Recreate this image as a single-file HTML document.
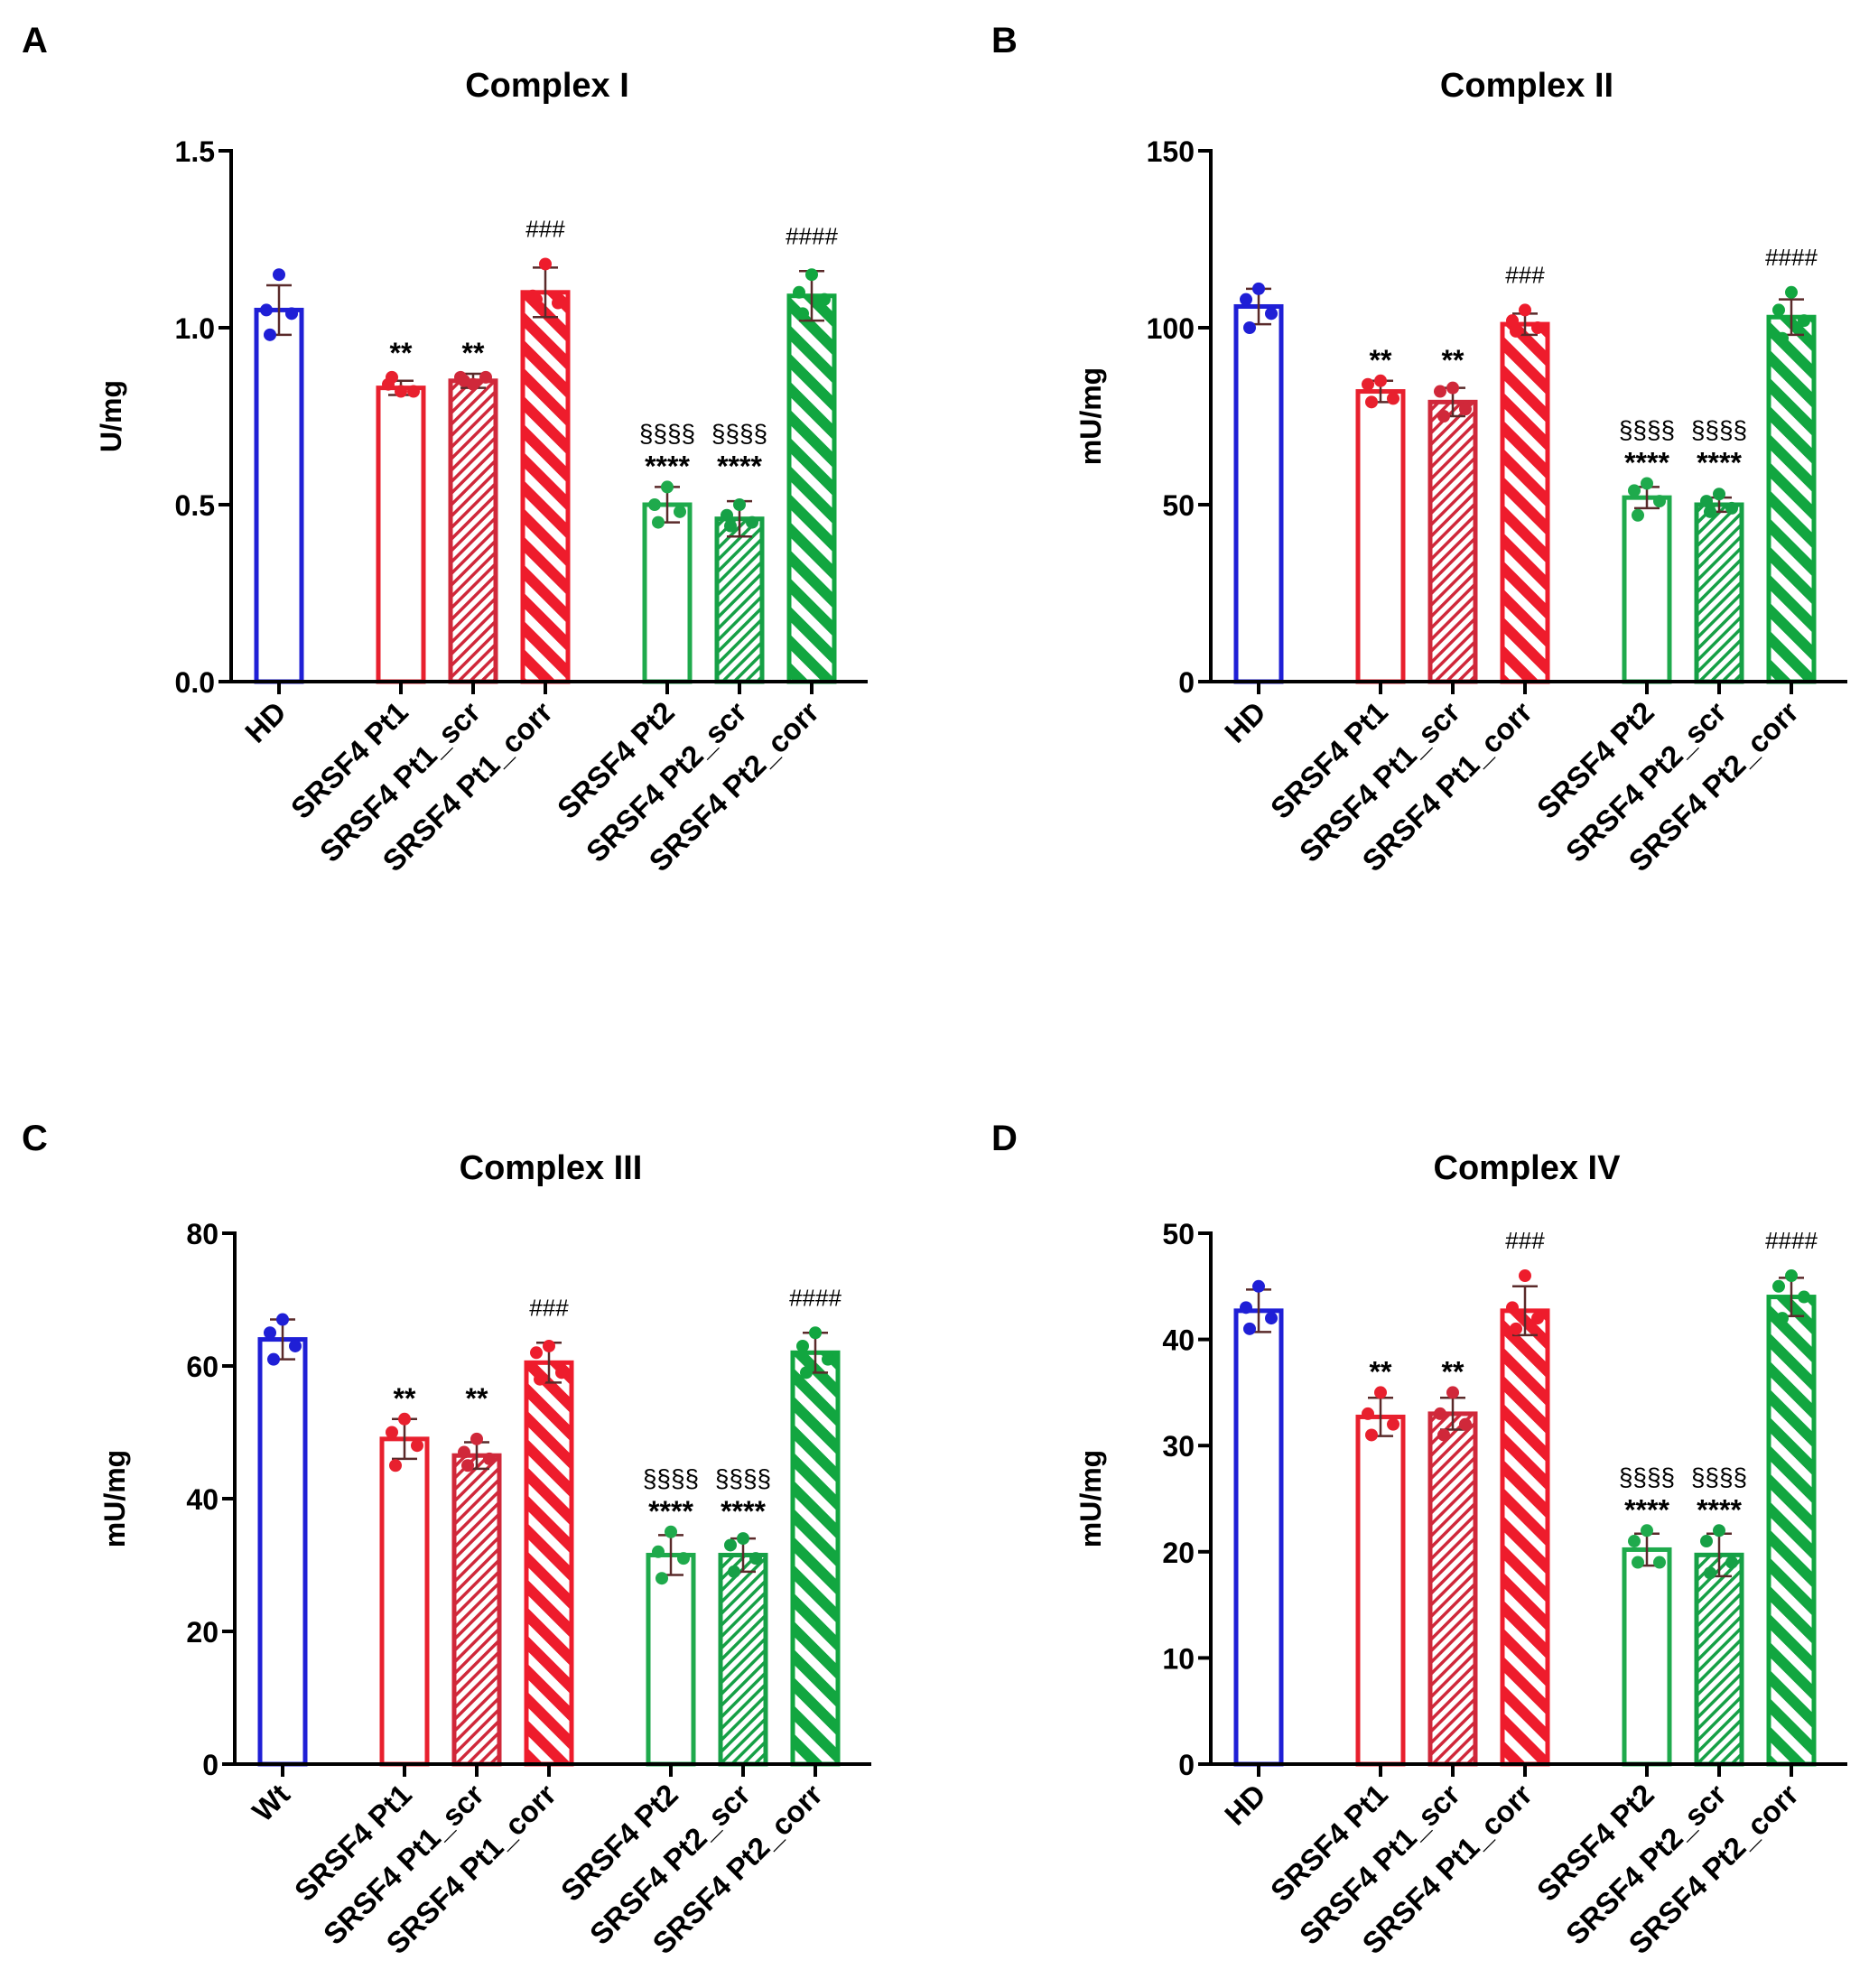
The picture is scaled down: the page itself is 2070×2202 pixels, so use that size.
<!DOCTYPE html>
<html><head><meta charset="utf-8">
<style>
html,body{margin:0;padding:0;background:#fff;}
svg{display:block;font-family:"Liberation Sans",Arial,sans-serif;}
</style></head>
<body>
<svg id="chart" width="2070" height="2202" viewBox="0 0 2070 2202" xmlns="http://www.w3.org/2000/svg">
<defs>
  <pattern id="scr-red" patternUnits="userSpaceOnUse" width="9" height="9" patternTransform="rotate(45)"><rect width="9" height="9" fill="#fff"/><rect width="3.5" height="9" fill="#d0283a"/></pattern>
  <pattern id="scr-green" patternUnits="userSpaceOnUse" width="9" height="9" patternTransform="rotate(45)"><rect width="9" height="9" fill="#fff"/><rect width="3.5" height="9" fill="#16a046"/></pattern>
  <pattern id="corr-red" patternUnits="userSpaceOnUse" width="22" height="22" patternTransform="rotate(-45)"><rect width="22" height="22" fill="#fff"/><rect width="12" height="22" fill="#ee1c2c"/></pattern>
  <pattern id="corr-green" patternUnits="userSpaceOnUse" width="22" height="22" patternTransform="rotate(-45)"><rect width="22" height="22" fill="#fff"/><rect width="12" height="22" fill="#12a640"/></pattern>
</defs>
</svg>
<script>
const categoriesA = ["HD","SRSF4 Pt1","SRSF4 Pt1_scr","SRSF4 Pt1_corr","SRSF4 Pt2","SRSF4 Pt2_scr","SRSF4 Pt2_corr"];
const categoriesC = ["Wt","SRSF4 Pt1","SRSF4 Pt1_scr","SRSF4 Pt1_corr","SRSF4 Pt2","SRSF4 Pt2_scr","SRSF4 Pt2_corr"];
const meansA = [1.05,0.83,0.85,1.10,0.50,0.46,1.09];
const sdA = [0.07,0.02,0.02,0.07,0.05,0.05,0.07];
const pointsA = [[1.15,1.05,1.04,0.98],[0.82,0.84,0.82,0.86],[0.84,0.86,0.86,0.85],[1.18,1.09,1.07,1.08],[0.55,0.50,0.48,0.45],[0.50,0.47,0.45,0.44],[1.15,1.10,1.08,1.04]];
const meansB = [106,82,79,101,52,50,103];
const sdB = [5,3,4,3,3,2,5];
const pointsB = [[111,108,104,100],[85,84,80,79],[83,82,77,75],[105,102,100,99],[56,54,51,47],[53,51,49,48],[110,105,102,97]];
const meansC = [64,49,46.5,60.5,31.5,31.5,62];
const sdC = [3,3,2,3,3,2.5,3];
const pointsC = [[67,65,63,61],[52,50,48,45],[49,47,46,45],[63,62,59,58],[35,32,31,28],[34,33,31,29],[65,63,61,59]];
const meansD = [42.7,32.7,33,42.7,20.2,19.7,44];
const sdD = [2,1.8,1.5,2.3,1.5,2,1.8];
const pointsD = [[45,43,42,41],[35,33,32,31],[35,33,32,31],[46,43,42,41],[22,21,19,19],[22,21,19,18],[46,45,44,42]];
const ticksA = [0,0.5,1.0,1.5]; const tickLabelsA = ["0.0","0.5","1.0","1.5"];
const ticksB = [0,50,100,150]; const tickLabelsB = ["0","50","100","150"];
const ticksC = [0,20,40,60,80]; const tickLabelsC = ["0","20","40","60","80"];
const ticksD = [0,10,20,30,40,50]; const tickLabelsD = ["0","10","20","30","40","50"];
const annotTop = ["","**","**","###","****","****","####"];
const annotSec = ["","","","","§§§§","§§§§",""];

const svg = document.getElementById('chart');
const NS = "http://www.w3.org/2000/svg";
function mk(tag, attrs, parent){const e=document.createElementNS(NS,tag);for(const k in attrs)e.setAttribute(k,attrs[k]);(parent||svg).appendChild(e);return e;}

const colors = ["#1f1fd6","#e8202e","#d0283a","#ee1c2c","#1faa4c","#16a046","#12a640"];
const fills = ["#fff","#fff","url(#scr-red)","url(#corr-red)","#fff","url(#scr-green)","url(#corr-green)"];
const offsets = [53,188,268,348,483,563,643];
const pairOf = [0,1,1,3,4,4,6];

function panel(o){
  const g = mk('g',{});
  
  
  const x0=o.ax, top=o.top, zero=o.zero, ymax=o.ticks[o.ticks.length-1];
  const y = v => zero - (v/ymax)*(zero-top);
  const lt = mk('text',{x:o.lx,y:o.ly,'font-size':40,'font-weight':'bold'},g); lt.textContent=o.letter;
   
  const tt = mk('text',{x:x0+350,y:o.top-60,'font-size':38,'font-weight':'bold','text-anchor':'middle'},g); tt.textContent=o.title;
   
  const yl = mk('text',{x:0,y:0,'font-size':32,'font-weight':'bold','text-anchor':'middle',transform:`translate(${x0-122},${(top+zero)/2}) rotate(-90)`},g); yl.textContent=o.ylabel;
   
  const tops = [];
  for(let i=0;i<7;i++){
    const m=o.means[i], sd=o.sd[i];
    tops.push(Math.min(y(m+sd), y(Math.max(...o.points[i])))-16);
  }
  for(let i=0;i<7;i++){
    const cx=x0+offsets[i], w=50, m=o.means[i];
    const b = mk('rect',{x:cx-w/2,y:y(m),width:w,height:zero-y(m),fill:fills[i],stroke:colors[i],'stroke-width':5},g);
    
    
    const sd=o.sd[i];
    const eb = mk('path',{d:`M${cx},${y(m-sd)}V${y(m+sd)}M${cx-14},${y(m+sd)}H${cx+14}M${cx-14},${y(m-sd)}H${cx+14}`,stroke:'#5a2a2a','stroke-width':2.5,fill:'none'},g);
     
    const pts=o.points[i]; const dx=[0,-14,14,-10];
    for(let j=0;j<pts.length;j++){
      const c = mk('circle',{cx:cx+dx[j],cy:y(pts[j]),r:7,fill:colors[i]},g);
       
    }
    const p=pairOf[i];
    const topY = (p===i && i!==1 && i!==4) ? tops[i] : Math.min(tops[p], tops[p+1]);
    if(annotTop[i]){
      const isHash = annotTop[i][0]==='#';
      const a = mk('text',{x:cx,y:isHash?topY-14:topY+4,'font-size':isHash?26:32,'text-anchor':'middle','font-weight':isHash?'normal':'bold'},g); a.textContent=annotTop[i];
       
    }
    if(annotSec[i]){
      const a = mk('text',{x:cx,y:topY-34,'font-size':28,'text-anchor':'middle'},g); a.textContent=annotSec[i];
       
    }
    const tk = mk('line',{x1:cx,y1:zero,x2:cx,y2:zero+14,stroke:'#000','stroke-width':4},g);
     
    const xl = mk('text',{x:0,y:0,'font-size':33,'font-weight':'bold','text-anchor':'end',transform:`translate(${cx+10},${zero+36}) rotate(-45)`},g); xl.textContent=o.cats[i];
     
  }
  const ax = mk('path',{d:`M${x0},${top-2}V${zero}H${x0+705}`,stroke:'#000','stroke-width':4,fill:'none'},g);
   
  for(let k=0;k<o.ticks.length;k++){
    const ty=y(o.ticks[k]);
    const tl = mk('line',{x1:x0-14,y1:ty,x2:x0,y2:ty,stroke:'#000','stroke-width':4},g);
     
    const tx = mk('text',{x:x0-18,y:ty+12,'font-size':32,'font-weight':'bold','text-anchor':'end'},g); tx.textContent=o.tickLabels[k];
     
  }
}
panel({id:'a',letter:'A',lx:24,ly:58,title:'Complex I',ylabel:'U/mg',ax:256,top:167,zero:755,cats:categoriesA,means:meansA,sd:sdA,points:pointsA,ticks:ticksA,tickLabels:tickLabelsA});
panel({id:'b',letter:'B',lx:1098,ly:58,title:'Complex II',ylabel:'mU/mg',ax:1341,top:167,zero:755,cats:categoriesA,means:meansB,sd:sdB,points:pointsB,ticks:ticksB,tickLabels:tickLabelsB});
panel({id:'c',letter:'C',lx:24,ly:1274,title:'Complex III',ylabel:'mU/mg',ax:260,top:1366,zero:1954,cats:categoriesC,means:meansC,sd:sdC,points:pointsC,ticks:ticksC,tickLabels:tickLabelsC});
panel({id:'d',letter:'D',lx:1098,ly:1274,title:'Complex IV',ylabel:'mU/mg',ax:1341,top:1366,zero:1954,cats:categoriesA,means:meansD,sd:sdD,points:pointsD,ticks:ticksD,tickLabels:tickLabelsD});
</script>
</body></html>
